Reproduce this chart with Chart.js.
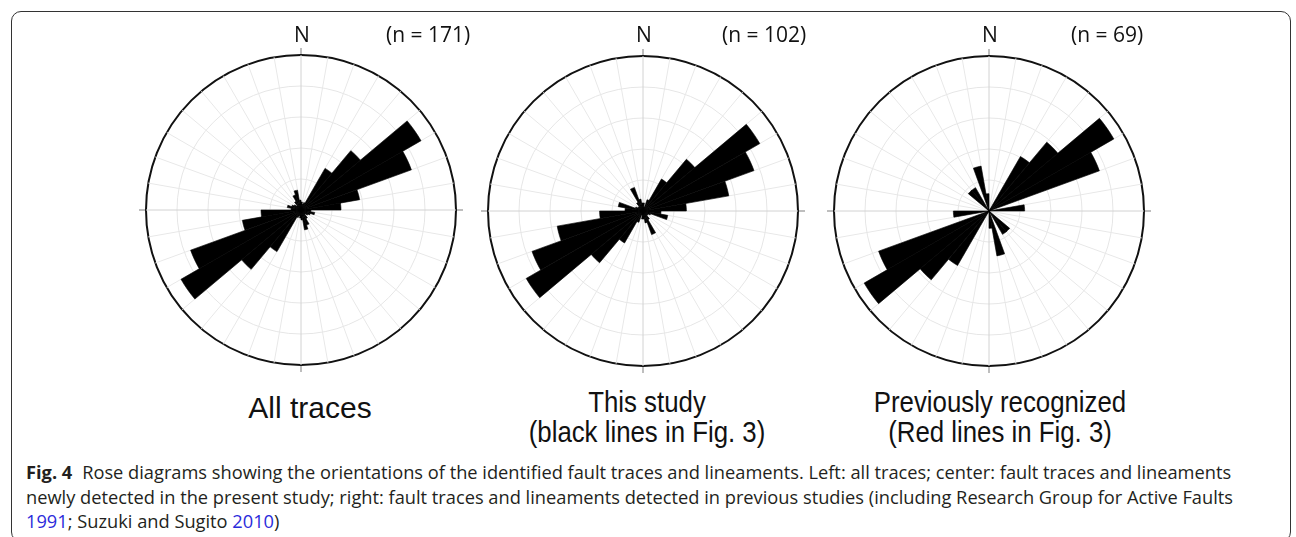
<!DOCTYPE html>
<html>
<head>
<meta charset="utf-8">
<script src="https://cdn.jsdelivr.net/npm/chart.js@4.4.1/dist/chart.umd.min.js"></script>
<style>
  body { margin: 0; width: 1296px; height: 537px; overflow: hidden; background: #fff; position: relative; }
  .frame { position: absolute; left: 11px; top: 11px; width: 1280px; height: 531px; border: 1.5px solid #333; border-radius: 10px; box-sizing: border-box; }
  canvas { position: absolute; }
  .n-label { position: absolute; font-family: 'Open Sans', sans-serif; font-size: 21px; line-height: 21px; color: #111; white-space: nowrap; }
  .sub { position: absolute; font-family: 'Liberation Sans', Arial, sans-serif; font-size: 30px; line-height: 30px; color: #111; text-align: center; white-space: nowrap; transform: translateX(-50%); }
  .sub.narrow { transform: translateX(-50%) scaleX(0.86); }
  .caption { position: absolute; left: 26px; top: 460px; font-family: 'Open Sans', sans-serif; font-size: 18.5px; line-height: 24.5px; color: #231f20; }
  .caption div { white-space: nowrap; transform-origin: 0 0; }
  .caption b { margin-right: 10px; }
  .ref { color: #2b2bdb; }
</style>
</head>
<body>
<div class="frame"></div>

<canvas id="rose-all" width="340" height="340" style="left:131px;top:40px"></canvas>
<canvas id="rose-this" width="340" height="340" style="left:473px;top:41px"></canvas>
<canvas id="rose-prev" width="340" height="340" style="left:819px;top:41px"></canvas>

<div class="n-label" style="left:294px;top:24px">N</div>
<div class="n-label" style="left:386px;top:24px">(n = 171)</div>
<div class="n-label" style="left:636px;top:24px">N</div>
<div class="n-label" style="left:722px;top:24px">(n = 102)</div>
<div class="n-label" style="left:982px;top:24px">N</div>
<div class="n-label" style="left:1071px;top:24px">(n = 69)</div>

<div class="sub" style="left:310px;top:393px">All traces</div>
<div class="sub narrow" style="left:647px;top:387px">This study<br>(black lines in Fig. 3)</div>
<div class="sub narrow" style="left:1000px;top:387px">Previously recognized<br>(Red lines in Fig. 3)</div>

<div class="caption" id="caption">
  <div><b>Fig. 4</b>Rose diagrams showing the orientations of the identified fault traces and lineaments. Left: all traces; center: fault traces and lineaments</div>
  <div>newly detected in the present study; right: fault traces and lineaments detected in previous studies (including Research Group for Active Faults</div>
  <div><span class="ref">1991</span>; Suzuki and Sugito <span class="ref">2010</span>)</div>
</div>

<script>
// azimuth bins, 10° wide, clockwise from north
const binStart = [0, 10, 20, 30, 40, 50, 60, 70, 80, 90, 100, 110, 120, 130, 140, 150, 160, 170,
                  180, 190, 200, 210, 220, 230, 240, 250, 260, 270, 280, 290, 300, 310, 320, 330, 340, 350];

// bar lengths in ring units (5 rings to the outer circle); axial data, so 180-360 repeats 0-180
const allTraces = [0.26, 0.19, 0.26, 1.55, 2.50, 4.47, 3.79, 1.92, 1.29, 0.32, 0.45, 0.32, 0.26, 0.19, 0.32, 0.52, 0.65, 0.32,
                   0.26, 0.19, 0.26, 1.55, 2.50, 4.47, 3.79, 1.92, 1.29, 0.32, 0.45, 0.32, 0.26, 0.19, 0.32, 0.52, 0.65, 0.32];
const thisStudy = [0.26, 0.13, 0.39, 1.19, 2.18, 4.35, 3.81, 2.81, 1.40, 0.58, 0.81, 0.26, 0.19, 0.19, 0.32, 0.81, 0.39, 0.26,
                   0.26, 0.13, 0.39, 1.19, 2.18, 4.35, 3.81, 2.81, 1.40, 0.58, 0.81, 0.26, 0.19, 0.19, 0.32, 0.81, 0.39, 0.26];
const previous  = [0, 0, 0, 2.03, 2.90, 4.65, 3.79, 0, 1.15, 0, 0, 0, 0, 0.87, 0.87, 0, 1.47, 0.56,
                   0, 0, 0, 2.03, 2.90, 4.65, 3.79, 0, 1.15, 0, 0, 0, 0, 0.87, 0.87, 0, 1.47, 0.56];

const ringMax = 5;

// short ticks poking out of the circle at N, E, S, W
const compassTicks = {
  id: 'compassTicks',
  afterDraw(chart) {
    const s = chart.scales.r;
    const c = chart.ctx;
    c.save();
    c.strokeStyle = '#a8a8a8';
    c.lineWidth = 1.5;
    [0, 90, 180, 270].forEach(a => {
      const t = a * Math.PI / 180;
      const dx = Math.sin(t), dy = -Math.cos(t);
      c.beginPath();
      c.moveTo(s.xCenter + dx * (s.drawingArea + 1), s.yCenter + dy * (s.drawingArea + 1));
      c.lineTo(s.xCenter + dx * (s.drawingArea + 7), s.yCenter + dy * (s.drawingArea + 7));
      c.stroke();
    });
    c.restore();
  }
};

function rose(id, values) {
  return new Chart(document.getElementById(id), {
    type: 'polarArea',
    data: {
      labels: binStart,
      datasets: [{
        data: values,
        backgroundColor: '#000',
        borderColor: '#000',
        borderWidth: 0.6
      }]
    },
    options: {
      responsive: false,
      animation: false,
      layout: { padding: 15 },
      plugins: { legend: { display: false }, tooltip: { enabled: false } },
      scales: {
        r: {
          min: 0,
          max: ringMax,
          startAngle: 0,
          ticks: { display: false, stepSize: 1 },
          grid: {
            circular: true,
            color: ctx => ctx.index === 5 ? '#111' : '#e6e6e6',
            lineWidth: ctx => ctx.index === 5 ? 2 : 1
          },
          angleLines: {
            display: true,
            color: ctx => ctx.index % 9 === 0 ? '#d2d2d2' : '#e8e8e8',
            lineWidth: 1
          },
          pointLabels: { display: false }
        }
      }
    },
    plugins: [compassTicks]
  });
}

rose('rose-all', allTraces);
rose('rose-this', thisStudy);
rose('rose-prev', previous);

// squeeze the caption to the width of the original condensed face
const lines = document.querySelectorAll('#caption div');
const k = (1233 - 26) / lines[1].getBoundingClientRect().width;
lines.forEach(l => { l.style.transform = 'scaleX(' + k + ')'; });
</script>
</body>
</html>
